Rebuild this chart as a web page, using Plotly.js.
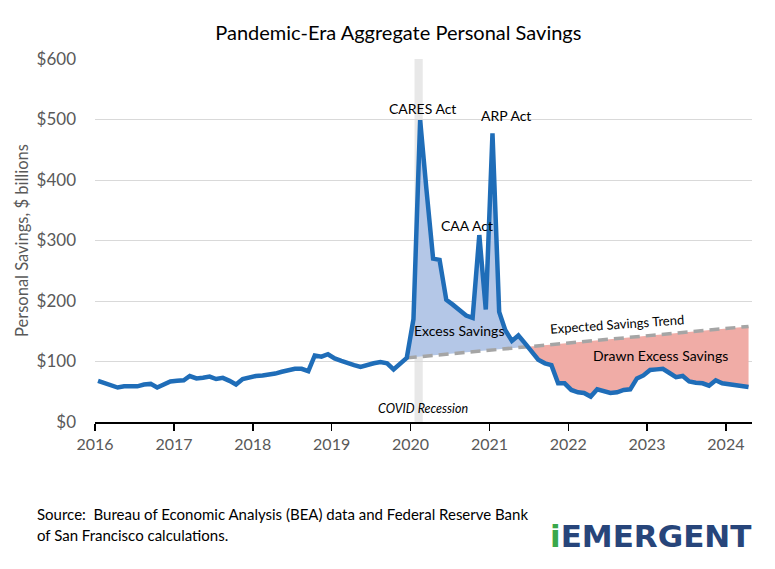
<!DOCTYPE html>
<html>
<head>
<meta charset="utf-8">
<script src="https://cdn.plot.ly/plotly-3.0.1.min.js"></script>
<style>html,body{margin:0;padding:0;background:#fff;}#chart{width:775px;height:569px;}</style>
</head>
<body>
<div id="chart"></div>
<script>
// Monthly aggregate personal savings ($ billions), Jan 2016 - Apr 2024
const startYear = 2016;
const savings = [
  68, 64, 60, 57, 59, 59, 59, 62, 63, 57, 63, 67,        // 2016
  68, 69, 76, 72, 73, 75, 71, 73, 68, 62, 71, 74,        // 2017
  76, 77, 78, 80, 83, 86, 88, 88, 84, 110, 108, 112,     // 2018
  105, 101, 97, 94, 91, 95, 97, 99, 97, 87, 97, 106,     // 2019
  170, 499, 385, 270, 268, 202, 194, 186, 176, 172, 309, 186, // 2020
  477, 182, 152, 134, 143, 130, 116, 103, 97, 94, 64, 64,  // 2021
  53, 49, 48, 42, 54, 50, 48, 49, 53, 54, 72, 77,        // 2022
  86, 87, 88, 81, 74, 76, 67, 65, 64, 60, 69, 64,        // 2023
  62, 61, 60, 58                                         // 2024
];
// Expected savings trend (straight line between its end points)
const trendDates = ['2019-12-15', '2024-04-15'];
const trendValues = [106, 158];
// COVID recession shading
const recession = ['2020-01-20', '2020-02-27'];
const yearTicks = ['2016','2017','2018','2019','2020','2021','2022','2023','2024'];

// month dates (mid-month)
const dates = savings.map((v, i) => {
  const y = startYear + Math.floor(i / 12);
  const m = (i % 12) + 1;
  return y + '-' + String(m).padStart(2, '0') + '-15';
});
const toMs = s => { const p = s.split('-').map(Number); return Date.UTC(p[0], p[1]-1, p[2]); };
const xs = dates.map(toMs);
const t0 = toMs(trendDates[0]), t1 = toMs(trendDates[1]);
const trendAt = t => trendValues[0] + (trendValues[1]-trendValues[0]) * (t - t0) / (t1 - t0);

const iStart = xs.indexOf(t0), iEnd = xs.indexOf(t1);
let cross = null;
for (let i = iStart + 1; i <= iEnd; i++) {
  const d0 = savings[i-1] - trendAt(xs[i-1]);
  const d1 = savings[i] - trendAt(xs[i]);
  if (i - 1 > iStart + 1 && d0 >= 0 && d1 < 0) {
    const f = d0 / (d0 - d1);
    const xc = xs[i-1] + f * (xs[i] - xs[i-1]);
    cross = {i: i, x: xc, y: trendAt(xc)};
    break;
  }
}
const blueX = xs.slice(iStart, cross.i).concat([cross.x]);
const blueY = savings.slice(iStart, cross.i).concat([cross.y]);
const pinkX = [cross.x].concat(xs.slice(cross.i, iEnd + 1));
const pinkY = [cross.y].concat(savings.slice(cross.i, iEnd + 1));

const font = 'Lato, "Open Sans", sans-serif';
const traces = [
  {x: [t0, cross.x], y: [trendAt(t0), cross.y], type: 'scatter', mode: 'lines', line: {width: 0}, hoverinfo: 'skip', showlegend: false},
  {x: blueX, y: blueY, type: 'scatter', mode: 'lines', fill: 'tonexty', fillcolor: '#b4c7e7', line: {width: 0}, hoverinfo: 'skip', showlegend: false},
  {x: [cross.x, t1], y: [cross.y, trendAt(t1)], type: 'scatter', mode: 'lines', line: {width: 0}, hoverinfo: 'skip', showlegend: false},
  {x: pinkX, y: pinkY, type: 'scatter', mode: 'lines', fill: 'tonexty', fillcolor: '#f0aca6', line: {width: 0}, hoverinfo: 'skip', showlegend: false},
  {x: trendDates, y: trendValues, type: 'scatter', mode: 'lines', name: 'Expected Savings Trend', line: {color: '#a5a5a5', width: 3.5, dash: '10px,6px'}, showlegend: false},
  {x: dates, y: savings, type: 'scatter', mode: 'lines', name: 'Personal Savings', line: {color: '#1f6db8', width: 4.5, shape: 'linear'}, showlegend: false}
];

const ann = (text, x, y, opts) => Object.assign({text: text, x: x, y: y, xref: 'paper', yref: 'paper', xanchor: 'center', yanchor: 'middle', showarrow: false, font: {family: font, size: 14, color: '#000'}}, opts || {});

const layout = {
  width: 775, height: 569,
  margin: {l: 95, r: 23, t: 59, b: 147},
  paper_bgcolor: '#fff', plot_bgcolor: '#fff',
  title: {text: 'Pandemic-Era Aggregate Personal Savings', x: 0.514, xref: 'container', y: 0.942, yref: 'container', yanchor: 'middle', font: {family: font, size: 20, color: '#000'}},
  xaxis: {
    type: 'date', range: ['2016-01-01', '2024-05-01'],
    tickvals: yearTicks.map(y => y + '-01-01'), ticktext: yearTicks,
    ticks: 'outside', ticklen: 7, tickwidth: 1.5, tickcolor: '#000',
    showline: true, linecolor: '#000', linewidth: 1.5, showgrid: false, zeroline: false,
    tickfont: {family: font, size: 16, color: '#595959'}
  },
  yaxis: {
    range: [0, 600], dtick: 100, tickprefix: '$', showgrid: true, gridcolor: '#d9d9d9', gridwidth: 1,
    zeroline: false, showline: false, ticks: '', ticklabelstandoff: 18,
    tickfont: {family: font, size: 17, color: '#595959'},
    title: {text: 'Personal Savings, $ billions', standoff: 3, font: {family: font, size: 16.5, color: '#595959'}}
  },
  shapes: [{type: 'rect', xref: 'x', yref: 'paper', x0: recession[0], x1: recession[1], y0: 0, y1: 1, fillcolor: '#e8e8e8', line: {width: 0}, layer: 'below'}],
  annotations: [
    ann('CARES Act', 0.498, 0.865),
    ann('ARP Act', 0.626, 0.843),
    ann('CAA Act', 0.566, 0.540),
    ann('Excess Savings', 0.554, 0.251),
    ann('Expected Savings Trend', 0.795, 0.270, {textangle: -4, font: {family: font, size: 13, color: '#000'}}),
    ann('Drawn Excess Savings', 0.861, 0.182),
    ann('<i>COVID Recession</i>', 0.499, 0.036, {font: {family: font, size: 12.5, color: '#000'}}),
    ann('Source:  Bureau of Economic Analysis (BEA) data and Federal Reserve Bank', -0.0913, -0.253, {xanchor: 'left', font: {family: font, size: 15, color: '#000'}}),
    ann('of San Francisco calculations.', -0.0913, -0.311, {xanchor: 'left', font: {family: font, size: 15, color: '#000'}}),
    ann('<b><span style="color:#3aa84a">i</span>EMERGENT</b>', 0.845, -0.314, {font: {family: '"DejaVu Sans", sans-serif', size: 31, color: '#27457a'}})
  ]
};
Plotly.newPlot('chart', traces, layout, {displayModeBar: false, staticPlot: true});
</script>
</body>
</html>
